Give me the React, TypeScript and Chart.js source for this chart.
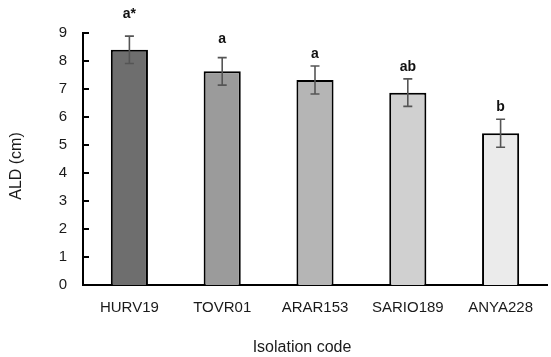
import React, { useEffect, useRef } from "react";
import { Chart, registerables } from "chart.js";

Chart.register(...registerables);

const categories = ["HURV19", "TOVR01", "ARAR153", "SARIO189", "ANYA228"];
const meanValues = [8.4, 7.63, 7.32, 6.87, 5.42];
const errorValues = [0.49, 0.49, 0.5, 0.49, 0.5];
const sigLetters = ["a*", "a", "a", "ab", "b"];
const letterPositions = [9.55, 8.65, 8.1, 7.65, 6.2];
const barColors = ["#6e6e6e", "#9b9b9b", "#b5b5b5", "#d0d0d0", "#ebebeb"];
const yTicks = [0, 1, 2, 3, 4, 5, 6, 7, 8, 9];
const yTitle = "ALD (cm)";
const xTitle = "Isolation code";

const FONT = "'Liberation Sans', Arial, sans-serif";

const overlayPlugin = {
  id: "overlay",
  afterDatasetsDraw(chart: any) {
    const ctx = chart.ctx;
    const x = chart.scales.x;
    const y = chart.scales.y;
    ctx.save();
    // error bars
    ctx.strokeStyle = "#555555";
    ctx.lineWidth = 1.6;
    meanValues.forEach((v, i) => {
      const cx = x.getPixelForValue(i);
      const top = y.getPixelForValue(v + errorValues[i]);
      const bot = y.getPixelForValue(v - errorValues[i]);
      ctx.beginPath();
      ctx.moveTo(cx, top);
      ctx.lineTo(cx, bot);
      ctx.moveTo(cx - 4.5, top);
      ctx.lineTo(cx + 4.5, top);
      ctx.moveTo(cx - 4.5, bot);
      ctx.lineTo(cx + 4.5, bot);
      ctx.stroke();
    });
    // letters
    ctx.fillStyle = "#111111";
    ctx.font = `bold 14px ${FONT}`;
    ctx.textAlign = "center";
    ctx.textBaseline = "alphabetic";
    sigLetters.forEach((t, i) => {
      ctx.fillText(t, x.getPixelForValue(i), y.getPixelForValue(letterPositions[i]));
    });
    // inward y tick marks
    ctx.strokeStyle = "#000000";
    ctx.lineWidth = 2;
    yTicks.forEach((t) => {
      const py = y.getPixelForValue(t);
      ctx.beginPath();
      ctx.moveTo(x.left, py);
      ctx.lineTo(x.left + 6, py);
      ctx.stroke();
    });
    // axis titles
    ctx.fillStyle = "#1a1a1a";
    ctx.font = `16px ${FONT}`;
    ctx.textAlign = "center";
    ctx.fillText(xTitle, 302, 352);
    ctx.save();
    ctx.translate(21, 166);
    ctx.rotate(-Math.PI / 2);
    ctx.textBaseline = "alphabetic";
    ctx.fillText(yTitle, 0, 0);
    ctx.restore();
    ctx.restore();
  },
};

export default function App() {
  const ref = useRef<HTMLCanvasElement>(null);
  useEffect(() => {
    document.body.style.margin = "0";
    const chart = new Chart(ref.current as HTMLCanvasElement, {
      type: "bar",
      data: {
        labels: categories,
        datasets: [
          {
            data: meanValues,
            backgroundColor: barColors,
            borderColor: "#000000",
            borderWidth: 2,
            barPercentage: 0.4,
            categoryPercentage: 1,
          },
        ],
      },
      options: {
        responsive: false,
        animation: false,
        devicePixelRatio: 1,
        layout: { padding: { top: 33, right: 4, left: 0, bottom: 0 } },
        plugins: { legend: { display: false }, tooltip: { enabled: false } },
        scales: {
          x: {
            grid: { display: false, drawTicks: false },
            border: { display: true, color: "#000000", width: 2 },
            ticks: {
              padding: 14,
              color: "#1a1a1a",
              font: { family: FONT, size: 15 },
            },
            afterFit: (s: any) => {
              s.height = 72;
            },
          },
          y: {
            min: 0,
            max: 9,
            grid: { display: false, drawTicks: false },
            border: { display: true, color: "#000000", width: 2 },
            ticks: {
              stepSize: 1,
              padding: 16,
              color: "#1a1a1a",
              font: { family: FONT, size: 15 },
            },
            afterFit: (s: any) => {
              s.width = 83;
            },
          },
        },
      },
      plugins: [overlayPlugin],
    });
    return () => chart.destroy();
  }, []);
  return <canvas ref={ref} width={551} height={357} />;
}
